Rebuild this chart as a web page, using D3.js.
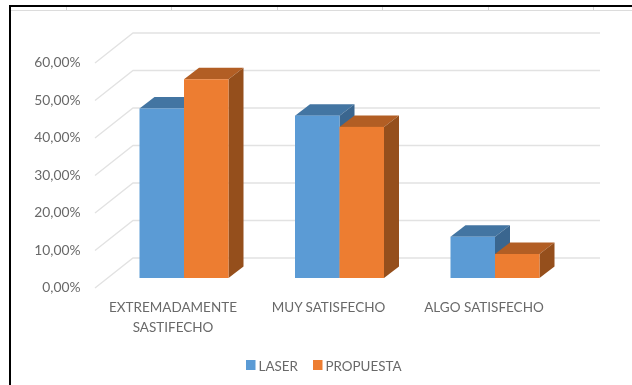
<!DOCTYPE html>
<html><head><meta charset="utf-8">
<script src="https://cdn.jsdelivr.net/npm/d3@7"></script>
<style>
html,body{margin:0;padding:0;background:#fff;overflow:hidden}
svg{display:block;filter:blur(0.35px)}
text{font-family:Lato,"Open Sans",sans-serif;fill:#696969}
</style></head><body>
<svg id="c" width="632" height="385"></svg>
<script>
const categories = [["EXTREMADAMENTE","SASTIFECHO"],["MUY SATISFECHO"],["ALGO SATISFECHO"]];
const seriesNames = ["LASER","PROPUESTA"];
const laser = [0.452,0.433,0.11];
const propuesta = [0.53,0.403,0.064];
const yTicks = [0,0.1,0.2,0.3,0.4,0.5,0.6];
const cellTicks = [66,171,277,382,488,593];

const front = ["#5b9bd5","#ed7d31"];
const topC = ["#4375a2","#b25e24"];
const sideC = ["#3a668f","#954f1c"];

const svg = d3.select("#c");
const y = d3.scaleLinear().domain([0,0.6]).range([278,53]);
const x0 = d3.scaleBand().domain(d3.range(categories.length)).range([106.25,572.75]);
const x1 = d3.scaleBand().domain(seriesNames).range([-44.5,44.5]);
const fmt = v => d3.format(".2f")(v*100).replace(".",",")+"%";

// frame remnants of the pasted spreadsheet
const frame = svg.append("g");
frame.append("line").attr("x1",10).attr("x2",632).attr("y1",10.5).attr("y2",10.5).attr("stroke","#dcdcdc").attr("stroke-width",1);
frame.selectAll("line.t").data(cellTicks).join("line").attr("class","t")
  .attr("x1",d=>d+.5).attr("x2",d=>d+.5).attr("y1",7).attr("y2",10).attr("stroke","#d4d4d4");
frame.append("line").attr("x1",9).attr("x2",632).attr("y1",6).attr("y2",6).attr("stroke","#000").attr("stroke-width",2);
frame.append("line").attr("x1",10).attr("x2",10).attr("y1",5).attr("y2",385).attr("stroke","#000").attr("stroke-width",2);

// walls
const backDy=-20, leftDy=10;
const grid = svg.append("g").attr("fill","none").attr("stroke","#e2e2e2").attr("stroke-width",1.3);
grid.selectAll("path").data(yTicks).join("path")
  .attr("d",d=>`M95,${y(d)+leftDy}L133,${y(d)+backDy}L600,${y(d)+backDy}`);

// y labels
svg.append("g").selectAll("text").data(yTicks).join("text")
  .attr("x",80.5).attr("y",d=>y(d)+leftDy-0.5).attr("dy","0.35em")
  .attr("text-anchor","end").attr("font-size",13.8).text(fmt);

// bars
const dx=15, dy=11.5;
const rows = categories.map((c,i)=>[laser[i],propuesta[i]]);
const g = svg.append("g").selectAll("g").data(rows).join("g")
  .attr("transform",(d,i)=>`translate(${x0(i)+x0.bandwidth()/2},0)`);
seriesNames.forEach((s,k)=>{
  const b = g.append("g");
  const l = x1(s), w = x1.bandwidth();
  b.append("path").attr("fill",topC[k]).attr("d",d=>{const t=y(d[k]);return `M${l},${t}L${l+dx},${t-dy}L${l+w+dx},${t-dy}L${l+w},${t}Z`;});
  b.append("path").attr("fill",sideC[k]).attr("d",d=>{const t=y(d[k]),z=y(0);return `M${l+w},${t}L${l+w+dx},${t-dy}L${l+w+dx},${z-dy}L${l+w},${z}Z`;});
  b.append("rect").attr("fill",front[k]).attr("x",l).attr("width",w).attr("y",d=>y(d[k])).attr("height",d=>y(0)-y(d[k]));
});

// category labels
const cat = svg.append("g").selectAll("text").data(categories).join("text")
  .attr("text-anchor","middle").attr("font-size",13.5);
cat.each(function(c,i){
  d3.select(this).selectAll("tspan").data(c).join("tspan")
    .attr("x",x0(i)+x0.bandwidth()/2-11).attr("y",(d,j)=>312+j*20).text(d=>d);
});

// legend
const legX=[246,313], legT=[259,326];
const leg = svg.append("g").selectAll("g").data(seriesNames).join("g");
leg.append("rect").attr("x",(d,i)=>legX[i]).attr("y",360).attr("width",9.5).attr("height",10).attr("fill",(d,i)=>front[i]);
leg.append("text").attr("x",(d,i)=>legT[i]-0.5).attr("y",370.5).attr("font-size",13.4).text(d=>d);
</script></body></html>
